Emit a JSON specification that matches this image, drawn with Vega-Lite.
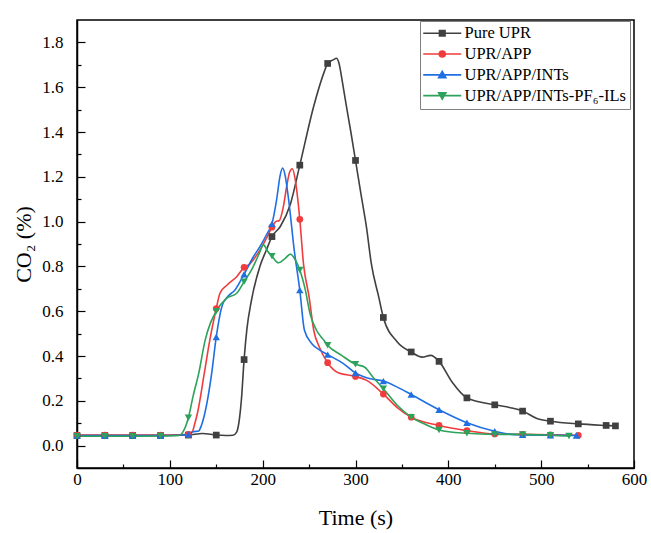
{
  "$schema": "https://vega.github.io/schema/vega-lite/v6.json",
  "width": 557,
  "height": 448,
  "autosize": {"type": "none"},
  "padding": {"left": 77, "top": 20, "right": 17, "bottom": 65},
  "background": "white",
  "config": {
    "view": {"stroke": "black", "strokeWidth": 1.5},
    "font": "Liberation Serif",
    "axis": {
      "grid": false,
      "domainColor": "black",
      "domainWidth": 1.5,
      "tickColor": "black",
      "tickWidth": 1.2,
      "labelFont": "Liberation Serif",
      "titleFont": "Liberation Serif",
      "labelColor": "black",
      "titleColor": "black",
      "labelFontSize": 17,
      "titleFontSize": 22,
      "titleFontWeight": "normal"
    },
    "legend": {"labelFont": "Liberation Serif", "titleFont": "Liberation Serif"}
  },
  "datasets": {
    "curves": [
      {"series": "Pure UPR", "time": 0, "co2": 0.045},
      {"series": "Pure UPR", "time": 30, "co2": 0.045},
      {"series": "Pure UPR", "time": 60, "co2": 0.045},
      {"series": "Pure UPR", "time": 90, "co2": 0.045},
      {"series": "Pure UPR", "time": 120, "co2": 0.047},
      {"series": "Pure UPR", "time": 135, "co2": 0.054},
      {"series": "Pure UPR", "time": 150, "co2": 0.047},
      {"series": "Pure UPR", "time": 160, "co2": 0.045},
      {"series": "Pure UPR", "time": 168, "co2": 0.046},
      {"series": "Pure UPR", "time": 172, "co2": 0.06},
      {"series": "Pure UPR", "time": 175, "co2": 0.12},
      {"series": "Pure UPR", "time": 177, "co2": 0.2},
      {"series": "Pure UPR", "time": 180, "co2": 0.384},
      {"series": "Pure UPR", "time": 183, "co2": 0.52},
      {"series": "Pure UPR", "time": 188, "co2": 0.65},
      {"series": "Pure UPR", "time": 197, "co2": 0.8},
      {"series": "Pure UPR", "time": 204, "co2": 0.873},
      {"series": "Pure UPR", "time": 210, "co2": 0.933},
      {"series": "Pure UPR", "time": 219, "co2": 0.978},
      {"series": "Pure UPR", "time": 230, "co2": 1.08},
      {"series": "Pure UPR", "time": 240, "co2": 1.252},
      {"series": "Pure UPR", "time": 255, "co2": 1.515},
      {"series": "Pure UPR", "time": 266, "co2": 1.665},
      {"series": "Pure UPR", "time": 270, "co2": 1.706},
      {"series": "Pure UPR", "time": 276, "co2": 1.722},
      {"series": "Pure UPR", "time": 279.5, "co2": 1.729},
      {"series": "Pure UPR", "time": 282, "co2": 1.71},
      {"series": "Pure UPR", "time": 286, "co2": 1.62},
      {"series": "Pure UPR", "time": 290, "co2": 1.52},
      {"series": "Pure UPR", "time": 295, "co2": 1.4},
      {"series": "Pure UPR", "time": 300, "co2": 1.273},
      {"series": "Pure UPR", "time": 306, "co2": 1.12},
      {"series": "Pure UPR", "time": 312, "co2": 0.97},
      {"series": "Pure UPR", "time": 317, "co2": 0.813},
      {"series": "Pure UPR", "time": 325, "co2": 0.664},
      {"series": "Pure UPR", "time": 330, "co2": 0.572},
      {"series": "Pure UPR", "time": 345, "co2": 0.463},
      {"series": "Pure UPR", "time": 360, "co2": 0.418},
      {"series": "Pure UPR", "time": 372, "co2": 0.395},
      {"series": "Pure UPR", "time": 381, "co2": 0.403},
      {"series": "Pure UPR", "time": 390, "co2": 0.376},
      {"series": "Pure UPR", "time": 404, "co2": 0.284},
      {"series": "Pure UPR", "time": 420, "co2": 0.213},
      {"series": "Pure UPR", "time": 450, "co2": 0.182},
      {"series": "Pure UPR", "time": 467, "co2": 0.169},
      {"series": "Pure UPR", "time": 480, "co2": 0.154},
      {"series": "Pure UPR", "time": 496, "co2": 0.12},
      {"series": "Pure UPR", "time": 510, "co2": 0.109},
      {"series": "Pure UPR", "time": 540, "co2": 0.097},
      {"series": "Pure UPR", "time": 570, "co2": 0.09},
      {"series": "Pure UPR", "time": 580, "co2": 0.088},

      {"series": "UPR/APP", "time": 0, "co2": 0.047},
      {"series": "UPR/APP", "time": 30, "co2": 0.047},
      {"series": "UPR/APP", "time": 60, "co2": 0.047},
      {"series": "UPR/APP", "time": 90, "co2": 0.047},
      {"series": "UPR/APP", "time": 110, "co2": 0.048},
      {"series": "UPR/APP", "time": 120, "co2": 0.05},
      {"series": "UPR/APP", "time": 124, "co2": 0.06},
      {"series": "UPR/APP", "time": 127, "co2": 0.1},
      {"series": "UPR/APP", "time": 130, "co2": 0.15},
      {"series": "UPR/APP", "time": 137, "co2": 0.32},
      {"series": "UPR/APP", "time": 143, "co2": 0.47},
      {"series": "UPR/APP", "time": 150, "co2": 0.612},
      {"series": "UPR/APP", "time": 154, "co2": 0.68},
      {"series": "UPR/APP", "time": 161.5, "co2": 0.716},
      {"series": "UPR/APP", "time": 172, "co2": 0.754},
      {"series": "UPR/APP", "time": 180, "co2": 0.796},
      {"series": "UPR/APP", "time": 186, "co2": 0.81},
      {"series": "UPR/APP", "time": 190, "co2": 0.83},
      {"series": "UPR/APP", "time": 197, "co2": 0.873},
      {"series": "UPR/APP", "time": 205, "co2": 0.933},
      {"series": "UPR/APP", "time": 210, "co2": 0.975},
      {"series": "UPR/APP", "time": 214, "co2": 1.0},
      {"series": "UPR/APP", "time": 218, "co2": 1.005},
      {"series": "UPR/APP", "time": 222, "co2": 1.06},
      {"series": "UPR/APP", "time": 226, "co2": 1.16},
      {"series": "UPR/APP", "time": 229, "co2": 1.22},
      {"series": "UPR/APP", "time": 232, "co2": 1.236},
      {"series": "UPR/APP", "time": 235, "co2": 1.19},
      {"series": "UPR/APP", "time": 240, "co2": 1.01},
      {"series": "UPR/APP", "time": 244, "co2": 0.81},
      {"series": "UPR/APP", "time": 250, "co2": 0.664},
      {"series": "UPR/APP", "time": 255, "co2": 0.515},
      {"series": "UPR/APP", "time": 261, "co2": 0.44},
      {"series": "UPR/APP", "time": 270, "co2": 0.37},
      {"series": "UPR/APP", "time": 282, "co2": 0.324},
      {"series": "UPR/APP", "time": 300, "co2": 0.309},
      {"series": "UPR/APP", "time": 312, "co2": 0.291},
      {"series": "UPR/APP", "time": 330, "co2": 0.23},
      {"series": "UPR/APP", "time": 345, "co2": 0.17},
      {"series": "UPR/APP", "time": 360, "co2": 0.127},
      {"series": "UPR/APP", "time": 390, "co2": 0.09},
      {"series": "UPR/APP", "time": 420, "co2": 0.067},
      {"series": "UPR/APP", "time": 450, "co2": 0.052},
      {"series": "UPR/APP", "time": 480, "co2": 0.05},
      {"series": "UPR/APP", "time": 510, "co2": 0.048},
      {"series": "UPR/APP", "time": 540, "co2": 0.046},

      {"series": "UPR/APP/INTs", "time": 0, "co2": 0.045},
      {"series": "UPR/APP/INTs", "time": 30, "co2": 0.045},
      {"series": "UPR/APP/INTs", "time": 60, "co2": 0.045},
      {"series": "UPR/APP/INTs", "time": 90, "co2": 0.045},
      {"series": "UPR/APP/INTs", "time": 110, "co2": 0.046},
      {"series": "UPR/APP/INTs", "time": 120, "co2": 0.05},
      {"series": "UPR/APP/INTs", "time": 125, "co2": 0.062},
      {"series": "UPR/APP/INTs", "time": 131, "co2": 0.065},
      {"series": "UPR/APP/INTs", "time": 134, "co2": 0.09},
      {"series": "UPR/APP/INTs", "time": 138, "co2": 0.15},
      {"series": "UPR/APP/INTs", "time": 145, "co2": 0.32},
      {"series": "UPR/APP/INTs", "time": 150, "co2": 0.485},
      {"series": "UPR/APP/INTs", "time": 156, "co2": 0.62},
      {"series": "UPR/APP/INTs", "time": 162, "co2": 0.664},
      {"series": "UPR/APP/INTs", "time": 170, "co2": 0.694},
      {"series": "UPR/APP/INTs", "time": 180, "co2": 0.765},
      {"series": "UPR/APP/INTs", "time": 190, "co2": 0.843},
      {"series": "UPR/APP/INTs", "time": 197, "co2": 0.888},
      {"series": "UPR/APP/INTs", "time": 205, "co2": 0.948},
      {"series": "UPR/APP/INTs", "time": 210, "co2": 0.99},
      {"series": "UPR/APP/INTs", "time": 215, "co2": 1.097},
      {"series": "UPR/APP/INTs", "time": 219, "co2": 1.21},
      {"series": "UPR/APP/INTs", "time": 221.6, "co2": 1.239},
      {"series": "UPR/APP/INTs", "time": 224, "co2": 1.21},
      {"series": "UPR/APP/INTs", "time": 228, "co2": 1.097},
      {"series": "UPR/APP/INTs", "time": 234, "co2": 0.873},
      {"series": "UPR/APP/INTs", "time": 240, "co2": 0.694},
      {"series": "UPR/APP/INTs", "time": 245, "co2": 0.515},
      {"series": "UPR/APP/INTs", "time": 253, "co2": 0.455},
      {"series": "UPR/APP/INTs", "time": 262, "co2": 0.425},
      {"series": "UPR/APP/INTs", "time": 270, "co2": 0.406},
      {"series": "UPR/APP/INTs", "time": 287, "co2": 0.366},
      {"series": "UPR/APP/INTs", "time": 300, "co2": 0.324},
      {"series": "UPR/APP/INTs", "time": 316, "co2": 0.298},
      {"series": "UPR/APP/INTs", "time": 330, "co2": 0.288},
      {"series": "UPR/APP/INTs", "time": 345, "co2": 0.261},
      {"series": "UPR/APP/INTs", "time": 360, "co2": 0.228},
      {"series": "UPR/APP/INTs", "time": 390, "co2": 0.16},
      {"series": "UPR/APP/INTs", "time": 420, "co2": 0.102},
      {"series": "UPR/APP/INTs", "time": 450, "co2": 0.064},
      {"series": "UPR/APP/INTs", "time": 471, "co2": 0.049},
      {"series": "UPR/APP/INTs", "time": 480, "co2": 0.048},
      {"series": "UPR/APP/INTs", "time": 510, "co2": 0.046},
      {"series": "UPR/APP/INTs", "time": 538, "co2": 0.045},

      {"series": "UPR/APP/INTs-PF₆-ILs", "time": 0, "co2": 0.042},
      {"series": "UPR/APP/INTs-PF₆-ILs", "time": 30, "co2": 0.042},
      {"series": "UPR/APP/INTs-PF₆-ILs", "time": 60, "co2": 0.042},
      {"series": "UPR/APP/INTs-PF₆-ILs", "time": 90, "co2": 0.043},
      {"series": "UPR/APP/INTs-PF₆-ILs", "time": 110, "co2": 0.045},
      {"series": "UPR/APP/INTs-PF₆-ILs", "time": 114, "co2": 0.06},
      {"series": "UPR/APP/INTs-PF₆-ILs", "time": 120, "co2": 0.124},
      {"series": "UPR/APP/INTs-PF₆-ILs", "time": 125, "co2": 0.22},
      {"series": "UPR/APP/INTs-PF₆-ILs", "time": 131, "co2": 0.32},
      {"series": "UPR/APP/INTs-PF₆-ILs", "time": 138, "co2": 0.47},
      {"series": "UPR/APP/INTs-PF₆-ILs", "time": 144, "co2": 0.55},
      {"series": "UPR/APP/INTs-PF₆-ILs", "time": 150, "co2": 0.6},
      {"series": "UPR/APP/INTs-PF₆-ILs", "time": 161, "co2": 0.657},
      {"series": "UPR/APP/INTs-PF₆-ILs", "time": 172, "co2": 0.68},
      {"series": "UPR/APP/INTs-PF₆-ILs", "time": 180, "co2": 0.732},
      {"series": "UPR/APP/INTs-PF₆-ILs", "time": 188, "co2": 0.784},
      {"series": "UPR/APP/INTs-PF₆-ILs", "time": 195.6, "co2": 0.851},
      {"series": "UPR/APP/INTs-PF₆-ILs", "time": 201, "co2": 0.896},
      {"series": "UPR/APP/INTs-PF₆-ILs", "time": 205, "co2": 0.87},
      {"series": "UPR/APP/INTs-PF₆-ILs", "time": 210, "co2": 0.846},
      {"series": "UPR/APP/INTs-PF₆-ILs", "time": 217, "co2": 0.816},
      {"series": "UPR/APP/INTs-PF₆-ILs", "time": 224, "co2": 0.835},
      {"series": "UPR/APP/INTs-PF₆-ILs", "time": 230, "co2": 0.855},
      {"series": "UPR/APP/INTs-PF₆-ILs", "time": 235, "co2": 0.83},
      {"series": "UPR/APP/INTs-PF₆-ILs", "time": 240, "co2": 0.784},
      {"series": "UPR/APP/INTs-PF₆-ILs", "time": 246, "co2": 0.694},
      {"series": "UPR/APP/INTs-PF₆-ILs", "time": 251, "co2": 0.59},
      {"series": "UPR/APP/INTs-PF₆-ILs", "time": 258, "co2": 0.515},
      {"series": "UPR/APP/INTs-PF₆-ILs", "time": 266, "co2": 0.47},
      {"series": "UPR/APP/INTs-PF₆-ILs", "time": 270, "co2": 0.448},
      {"series": "UPR/APP/INTs-PF₆-ILs", "time": 285, "co2": 0.403},
      {"series": "UPR/APP/INTs-PF₆-ILs", "time": 300, "co2": 0.363},
      {"series": "UPR/APP/INTs-PF₆-ILs", "time": 310, "co2": 0.35},
      {"series": "UPR/APP/INTs-PF₆-ILs", "time": 318, "co2": 0.31},
      {"series": "UPR/APP/INTs-PF₆-ILs", "time": 330, "co2": 0.254},
      {"series": "UPR/APP/INTs-PF₆-ILs", "time": 345, "co2": 0.18},
      {"series": "UPR/APP/INTs-PF₆-ILs", "time": 360, "co2": 0.127},
      {"series": "UPR/APP/INTs-PF₆-ILs", "time": 375, "co2": 0.095},
      {"series": "UPR/APP/INTs-PF₆-ILs", "time": 390, "co2": 0.07},
      {"series": "UPR/APP/INTs-PF₆-ILs", "time": 420, "co2": 0.055},
      {"series": "UPR/APP/INTs-PF₆-ILs", "time": 450, "co2": 0.05},
      {"series": "UPR/APP/INTs-PF₆-ILs", "time": 480, "co2": 0.05},
      {"series": "UPR/APP/INTs-PF₆-ILs", "time": 510, "co2": 0.046},
      {"series": "UPR/APP/INTs-PF₆-ILs", "time": 530, "co2": 0.043}
    ],
    "samples": [
      {"series": "Pure UPR", "time": 0, "co2": 0.045},
      {"series": "Pure UPR", "time": 30, "co2": 0.045},
      {"series": "Pure UPR", "time": 60, "co2": 0.045},
      {"series": "Pure UPR", "time": 90, "co2": 0.045},
      {"series": "Pure UPR", "time": 120, "co2": 0.047},
      {"series": "Pure UPR", "time": 150, "co2": 0.047},
      {"series": "Pure UPR", "time": 180, "co2": 0.384},
      {"series": "Pure UPR", "time": 210, "co2": 0.933},
      {"series": "Pure UPR", "time": 240, "co2": 1.252},
      {"series": "Pure UPR", "time": 270, "co2": 1.706},
      {"series": "Pure UPR", "time": 300, "co2": 1.273},
      {"series": "Pure UPR", "time": 330, "co2": 0.572},
      {"series": "Pure UPR", "time": 360, "co2": 0.418},
      {"series": "Pure UPR", "time": 390, "co2": 0.376},
      {"series": "Pure UPR", "time": 420, "co2": 0.213},
      {"series": "Pure UPR", "time": 450, "co2": 0.182},
      {"series": "Pure UPR", "time": 480, "co2": 0.154},
      {"series": "Pure UPR", "time": 510, "co2": 0.109},
      {"series": "Pure UPR", "time": 540, "co2": 0.097},
      {"series": "Pure UPR", "time": 570, "co2": 0.09},
      {"series": "Pure UPR", "time": 580, "co2": 0.088},
      {"series": "UPR/APP", "time": 0, "co2": 0.047},
      {"series": "UPR/APP", "time": 30, "co2": 0.047},
      {"series": "UPR/APP", "time": 60, "co2": 0.047},
      {"series": "UPR/APP", "time": 90, "co2": 0.047},
      {"series": "UPR/APP", "time": 120, "co2": 0.05},
      {"series": "UPR/APP", "time": 150, "co2": 0.612},
      {"series": "UPR/APP", "time": 180, "co2": 0.796},
      {"series": "UPR/APP", "time": 210, "co2": 0.975},
      {"series": "UPR/APP", "time": 240, "co2": 1.01},
      {"series": "UPR/APP", "time": 270, "co2": 0.37},
      {"series": "UPR/APP", "time": 300, "co2": 0.309},
      {"series": "UPR/APP", "time": 330, "co2": 0.23},
      {"series": "UPR/APP", "time": 360, "co2": 0.127},
      {"series": "UPR/APP", "time": 390, "co2": 0.09},
      {"series": "UPR/APP", "time": 420, "co2": 0.067},
      {"series": "UPR/APP", "time": 450, "co2": 0.052},
      {"series": "UPR/APP", "time": 480, "co2": 0.05},
      {"series": "UPR/APP", "time": 510, "co2": 0.048},
      {"series": "UPR/APP", "time": 540, "co2": 0.046},
      {"series": "UPR/APP/INTs", "time": 0, "co2": 0.045},
      {"series": "UPR/APP/INTs", "time": 30, "co2": 0.045},
      {"series": "UPR/APP/INTs", "time": 60, "co2": 0.045},
      {"series": "UPR/APP/INTs", "time": 90, "co2": 0.045},
      {"series": "UPR/APP/INTs", "time": 120, "co2": 0.05},
      {"series": "UPR/APP/INTs", "time": 150, "co2": 0.485},
      {"series": "UPR/APP/INTs", "time": 180, "co2": 0.765},
      {"series": "UPR/APP/INTs", "time": 210, "co2": 0.99},
      {"series": "UPR/APP/INTs", "time": 240, "co2": 0.694},
      {"series": "UPR/APP/INTs", "time": 270, "co2": 0.406},
      {"series": "UPR/APP/INTs", "time": 300, "co2": 0.324},
      {"series": "UPR/APP/INTs", "time": 330, "co2": 0.288},
      {"series": "UPR/APP/INTs", "time": 360, "co2": 0.228},
      {"series": "UPR/APP/INTs", "time": 390, "co2": 0.16},
      {"series": "UPR/APP/INTs", "time": 420, "co2": 0.102},
      {"series": "UPR/APP/INTs", "time": 450, "co2": 0.064},
      {"series": "UPR/APP/INTs", "time": 480, "co2": 0.048},
      {"series": "UPR/APP/INTs", "time": 510, "co2": 0.046},
      {"series": "UPR/APP/INTs", "time": 538, "co2": 0.045},
      {"series": "UPR/APP/INTs-PF₆-ILs", "time": 0, "co2": 0.042},
      {"series": "UPR/APP/INTs-PF₆-ILs", "time": 30, "co2": 0.042},
      {"series": "UPR/APP/INTs-PF₆-ILs", "time": 60, "co2": 0.042},
      {"series": "UPR/APP/INTs-PF₆-ILs", "time": 90, "co2": 0.043},
      {"series": "UPR/APP/INTs-PF₆-ILs", "time": 120, "co2": 0.124},
      {"series": "UPR/APP/INTs-PF₆-ILs", "time": 150, "co2": 0.6},
      {"series": "UPR/APP/INTs-PF₆-ILs", "time": 180, "co2": 0.732},
      {"series": "UPR/APP/INTs-PF₆-ILs", "time": 210, "co2": 0.846},
      {"series": "UPR/APP/INTs-PF₆-ILs", "time": 240, "co2": 0.784},
      {"series": "UPR/APP/INTs-PF₆-ILs", "time": 270, "co2": 0.448},
      {"series": "UPR/APP/INTs-PF₆-ILs", "time": 300, "co2": 0.363},
      {"series": "UPR/APP/INTs-PF₆-ILs", "time": 330, "co2": 0.254},
      {"series": "UPR/APP/INTs-PF₆-ILs", "time": 360, "co2": 0.127},
      {"series": "UPR/APP/INTs-PF₆-ILs", "time": 390, "co2": 0.07},
      {"series": "UPR/APP/INTs-PF₆-ILs", "time": 420, "co2": 0.055},
      {"series": "UPR/APP/INTs-PF₆-ILs", "time": 450, "co2": 0.05},
      {"series": "UPR/APP/INTs-PF₆-ILs", "time": 480, "co2": 0.05},
      {"series": "UPR/APP/INTs-PF₆-ILs", "time": 510, "co2": 0.046},
      {"series": "UPR/APP/INTs-PF₆-ILs", "time": 530, "co2": 0.043}
    ]
  },
  "layer": [
    {
      "data": {"name": "curves"},
      "mark": {"type": "line", "interpolate": "monotone", "strokeWidth": 1.6, "clip": true},
      "encoding": {
        "x": {
          "field": "time", "type": "quantitative",
          "scale": {"domain": [0, 600], "nice": false, "zero": false},
          "axis": {
            "orient": "bottom", "title": "Time (s)",
            "values": [0, 100, 200, 300, 400, 500, 600],
            "tickSize": -8, "labelPadding": 11, "labelFlush": false,
            "titlePadding": 20
          }
        },
        "y": {
          "field": "co2", "type": "quantitative",
          "scale": {"domain": [-0.1, 1.9], "nice": false, "zero": false},
          "axis": {
            "orient": "left", "title": "CO₂ (%)",
            "values": [0, 0.2, 0.4, 0.6, 0.8, 1.0, 1.2, 1.4, 1.6, 1.8],
            "format": ".1f", "tickSize": -8, "labelPadding": 22,
            "labelFlush": false, "titlePadding": 6
          }
        },
        "color": {
          "field": "series", "type": "nominal",
          "scale": {
            "domain": ["Pure UPR", "UPR/APP", "UPR/APP/INTs", "UPR/APP/INTs-PF₆-ILs"],
            "range": ["#404040", "#f03c3c", "#1f6fe3", "#2ca25a"]
          },
          "legend": {
            "orient": "none", "legendX": 343, "legendY": 1,
            "title": null, "symbolSize": 64, "symbolStrokeWidth": 1.6,
            "labelFont": "Liberation Serif",
            "labelFontSize": 16.5, "labelColor": "black", "labelOffset": 24,
            "labelLimit": 400, "rowPadding": 3.8, "padding": 4,
            "strokeColor": "#808080",
            "encode": {
              "symbols": {
                "update": {
                  "shape": {"signal": "datum.value === 'Pure UPR' ? 'M-2.25,0H7.25M1.8,-0.7H3.2V0.7H1.8Z' : datum.value === 'UPR/APP' ? 'M-2.25,0H7.25M1.75,0A0.75,0.75 0 1,0 3.25,0A0.75,0.75 0 1,0 1.75,0Z' : datum.value === 'UPR/APP/INTs' ? 'M-2.25,0H7.25M2.5,-0.85L3.4,0.7H1.6Z' : 'M-2.25,0H7.25M2.5,0.85L3.4,-0.7H1.6Z'"},
                  "fill": {"scale": "color", "field": "value"},
                  "stroke": {"scale": "color", "field": "value"},
                  "strokeWidth": {"value": 1.6},
                  "fillOpacity": {"value": 1},
                  "opacity": {"value": 1}
                }
              }
            }
          }
        }
      }
    },
    {
      "data": {"name": "samples"},
      "transform": [{"filter": "datum.series === 'Pure UPR'"}],
      "mark": {"type": "point", "shape": "square", "filled": true, "opacity": 1, "size": 45, "strokeWidth": 0},
      "encoding": {
        "x": {
          "field": "time", "type": "quantitative",
          "axis": {
            "orient": "bottom", "title": null, "labels": false, "domain": false,
            "values": [50, 150, 250, 350, 450, 550], "tickSize": -4
          }
        },
        "y": {
          "field": "co2", "type": "quantitative",
          "axis": {
            "orient": "left", "title": null, "labels": false, "domain": false,
            "values": [0.1, 0.3, 0.5, 0.7, 0.9, 1.1, 1.3, 1.5, 1.7], "tickSize": -4
          }
        },
        "color": {"field": "series", "type": "nominal", "legend": null}
      }
    },
    {
      "data": {"name": "samples"},
      "transform": [{"filter": "datum.series === 'UPR/APP'"}],
      "mark": {"type": "point", "shape": "circle", "filled": true, "opacity": 1, "size": 45, "strokeWidth": 0},
      "encoding": {
        "x": {"field": "time", "type": "quantitative", "axis": null},
        "y": {"field": "co2", "type": "quantitative", "axis": null},
        "color": {"field": "series", "type": "nominal", "legend": null}
      }
    },
    {
      "data": {"name": "samples"},
      "transform": [{"filter": "datum.series === 'UPR/APP/INTs'"}],
      "mark": {"type": "point", "shape": "triangle-up", "filled": true, "opacity": 1, "size": 55, "strokeWidth": 0},
      "encoding": {
        "x": {"field": "time", "type": "quantitative", "axis": null},
        "y": {"field": "co2", "type": "quantitative", "axis": null},
        "color": {"field": "series", "type": "nominal", "legend": null}
      }
    },
    {
      "data": {"name": "samples"},
      "transform": [{"filter": "datum.series === 'UPR/APP/INTs-PF₆-ILs'"}],
      "mark": {"type": "point", "shape": "triangle-down", "filled": true, "opacity": 1, "size": 55, "strokeWidth": 0},
      "encoding": {
        "x": {"field": "time", "type": "quantitative", "axis": null},
        "y": {"field": "co2", "type": "quantitative", "axis": null},
        "color": {"field": "series", "type": "nominal", "legend": null}
      }
    }
  ],
  "resolve": {
    "axis": {"x": "independent", "y": "independent"}
  }
}
